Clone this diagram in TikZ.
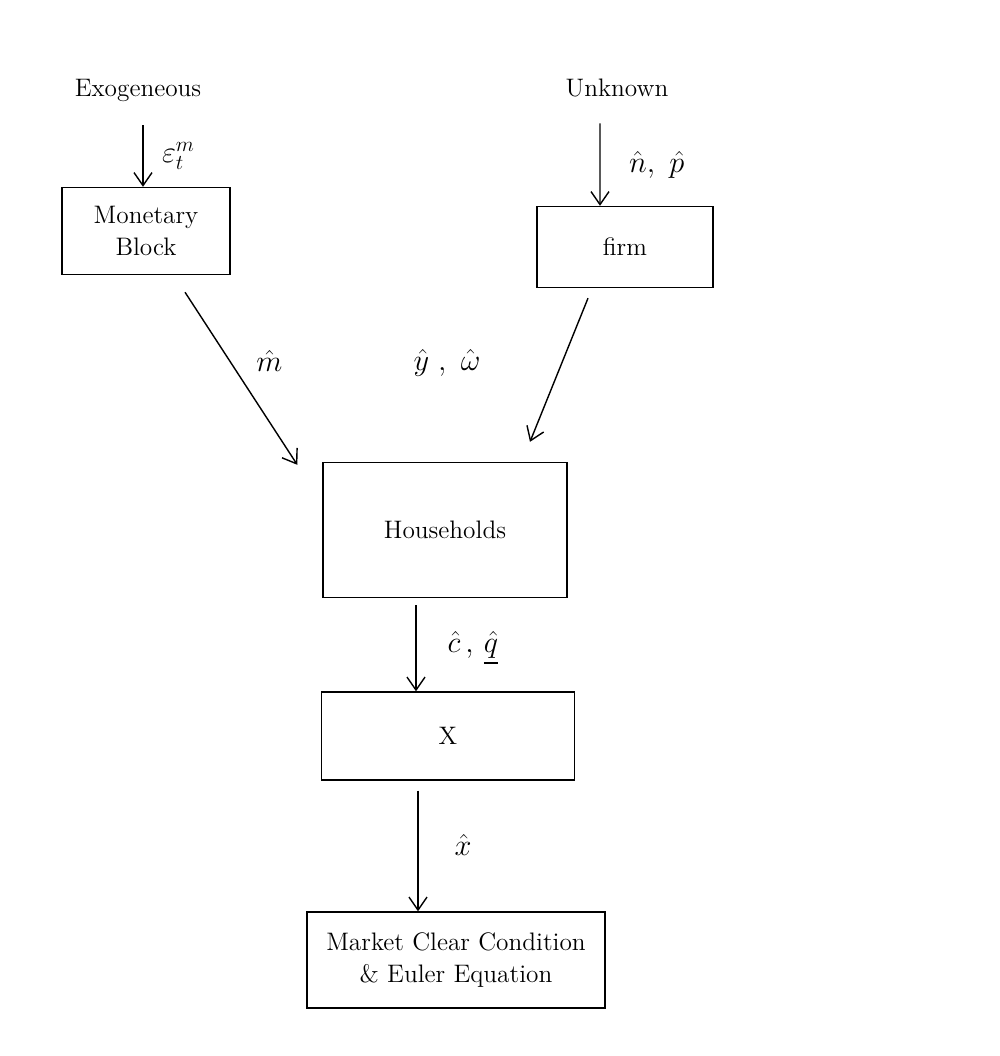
\documentclass[tikz,border=0pt]{standalone}
\usepackage{amsmath}
\usepackage{tikz}
\usetikzlibrary{arrows.meta,positioning}

\tikzset{
	block/.style={draw, line width=0.8pt, align=center, font=\Large},
	flow/.style={-{Straight Barb[length=2.6mm,width=3.6mm]}, line width=0.8pt},
	tag/.style={font=\Large},
	val/.style={font=\LARGE}
}

\begin{document}
\begin{tikzpicture}[x=0.02cm,y=-0.02cm]
	\useasboundingbox (0,0) rectangle (1000,1056);
	\node[tag] (exo) at (138,90) {Exogeneous};
	\node[tag] (unk) at (617,88) {Unknown};
	\node[block, minimum width=3.36cm, minimum height=1.74cm] (mon) at (146,231) {Monetary\\Block};
	\node[block, minimum width=3.52cm, minimum height=1.62cm] (firm) at (625,247) {firm};
	\node[block, minimum width=4.88cm, minimum height=2.7cm] (hh) at (445,530) {Households};
	\node[block, minimum width=5.06cm, minimum height=1.76cm] (xb) at (448,736) {X};
	\node[block, minimum width=5.96cm, minimum height=1.92cm] (mk) at (456,960) {Market Clear Condition\\\& Euler Equation};
	
	\draw[flow] ([xshift=-0.06cm,yshift=-0.36cm]mon.north |- exo.south) -- ([xshift=-0.06cm]mon.north)
		node[val, midway, right=0.25cm] {$\varepsilon_t^m$};
	\draw[flow] ([xshift=-0.34cm,yshift=-0.4cm]unk.south) -- ([xshift=-0.5cm]firm.north)
		node[val, midway, right=0.45cm] {$\hat{n},\ \hat{p}$};
	\draw[flow] ([xshift=0.78cm,yshift=-0.34cm]mon.south) -- ([xshift=-0.5cm,yshift=-0.06cm]hh.north west)
		node[val, pos=0.4, right=0.4cm] {$\hat{m}$};
	\draw[flow] ([xshift=-0.74cm,yshift=-0.2cm]firm.south) -- ([xshift=1.7cm,yshift=0.4cm]hh.north)
		node[val, pos=0.45, left=1.5cm] {$\hat{y}\ ,\ \hat{\omega}$};
	\draw[flow] ([xshift=-0.58cm,yshift=-0.14cm]hh.south) -- ([xshift=-0.58cm]hh.south |- xb.north)
		node[val, midway, right=0.5cm] {$\hat{c}\,,\,\underline{\hat{q}}$};
	\draw[flow] ([xshift=-0.6cm,yshift=-0.2cm]xb.south) -- ([xshift=-0.6cm]xb.south |- mk.north)
		node[val, pos=0.45, right=0.6cm] {$\hat{x}$};
\end{tikzpicture}
\end{document}
